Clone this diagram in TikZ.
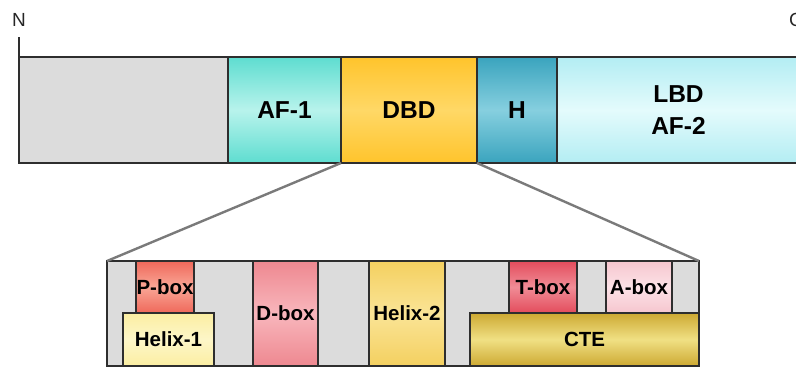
\documentclass[tikz,border=0pt]{standalone}
\usepackage{fontspec}
\setmainfont{Liberation Sans}
\usetikzlibrary{positioning}

\definecolor{edge}{HTML}{2E2E2E}
\definecolor{linkgray}{HTML}{7A7A7A}
\definecolor{plain}{HTML}{DCDCDC}
% domain palettes: edge tone, highlight
\definecolor{afA}{HTML}{5EDDD0}   \definecolor{afB}{HTML}{B8F3EC}
\definecolor{dbA}{HTML}{FFC42C}   \definecolor{dbB}{HTML}{FFD866}
\definecolor{hnA}{HTML}{3AA4BE}   \definecolor{hnB}{HTML}{86CFDF}
\definecolor{lbA}{HTML}{B3EDF3}   \definecolor{lbB}{HTML}{E4FBFC}
\definecolor{pbA}{HTML}{EF685A}   \definecolor{pbB}{HTML}{F9A696}
\definecolor{h1A}{HTML}{FBEEA2}   \definecolor{h1B}{HTML}{FDF6C8}
\definecolor{dxA}{HTML}{EE8890}   \definecolor{dxB}{HTML}{F8B6BC}
\definecolor{h2A}{HTML}{F4D060}   \definecolor{h2B}{HTML}{FAE496}
\definecolor{tbA}{HTML}{E34C5C}   \definecolor{tbB}{HTML}{F08C96}
\definecolor{abA}{HTML}{F6C6CE}   \definecolor{abB}{HTML}{FCE2E7}
\definecolor{ctA}{HTML}{CDA932}   \definecolor{ctB}{HTML}{F0E084}

\tikzset{
  seg/.style={draw=edge, line width=1.4pt, inner sep=0pt, outer sep=0pt,
    font=\fontsize{24.5}{32}\selectfont\bfseries, text=black, align=center},
  sub/.style={seg, font=\fontsize{20.5}{24}\selectfont\bfseries},
  grad/.style 2 args={top color=#1, bottom color=#1, middle color=#2},
  link/.style={draw=linkgray, line width=2.4pt},
  term/.style={font=\fontsize{19}{22}\selectfont, text=black!85, inner sep=0pt}
}

\begin{document}
\begin{tikzpicture}[x=1pt, y=-1pt]
  \useasboundingbox (0,0) rectangle (796,367);
  \clip (0,0) rectangle (796,367);

  % full-length receptor bar
  \node[seg, fill=plain, minimum width=209pt, minimum height=106pt] (ntd) at (123.5,110) {};
  \node[seg, grad={afA}{afB}, minimum width=113pt, minimum height=106pt] (af1) at (284.5,110) {AF-1};
  \node[seg, grad={dbA}{dbB}, minimum width=136pt, minimum height=106pt] (dbd) at (409,110) {DBD};
  \node[seg, grad={hnA}{hnB}, minimum width=80pt, minimum height=106pt] (hinge) at (517,110) {H};
  \node[seg, grad={lbA}{lbB}, minimum width=243pt, minimum height=106pt] (lbd) at (678.5,110) {LBD\\AF-2};

  % termini
  \node[term] (nterm) at (19,20) {N};
  \node[term, anchor=west] (cterm) at (789,20) {C};
  \draw[draw=edge, line width=1.4pt] (ntd.north west) -- (ntd.north west |- 0,37);

  % expanded DNA-binding domain
  \node[seg, fill=plain, minimum width=592pt, minimum height=105pt] (zoom) at (403,313.5) {};
  \node[sub, grad={pbA}{pbB}, minimum width=58pt, minimum height=52pt] (pbox) at (165,287) {P-box};
  \node[sub, grad={h1A}{h1B}, minimum width=91pt, minimum height=53pt] (helix1) at (168.5,339.5) {Helix-1};
  \node[sub, grad={dxA}{dxB}, minimum width=65pt, minimum height=105pt] (dboxn) at (285.5,313.5) {D-box};
  \node[sub, grad={h2A}{h2B}, minimum width=76pt, minimum height=105pt] (helix2) at (407,313.5) {Helix-2};
  \node[sub, grad={tbA}{tbB}, minimum width=68pt, minimum height=52pt] (tbox) at (543,287) {T-box};
  \node[sub, grad={abA}{abB}, minimum width=66pt, minimum height=52pt] (abox) at (639,287) {A-box};
  \node[sub, grad={ctA}{ctB}, minimum width=229pt, minimum height=53pt] (cte) at (584.5,339.5) {CTE};

  % projection lines
  \draw[link] (dbd.south west) -- (zoom.north west);
  \draw[link] (dbd.south east) -- (zoom.north east);
\end{tikzpicture}
\end{document}
